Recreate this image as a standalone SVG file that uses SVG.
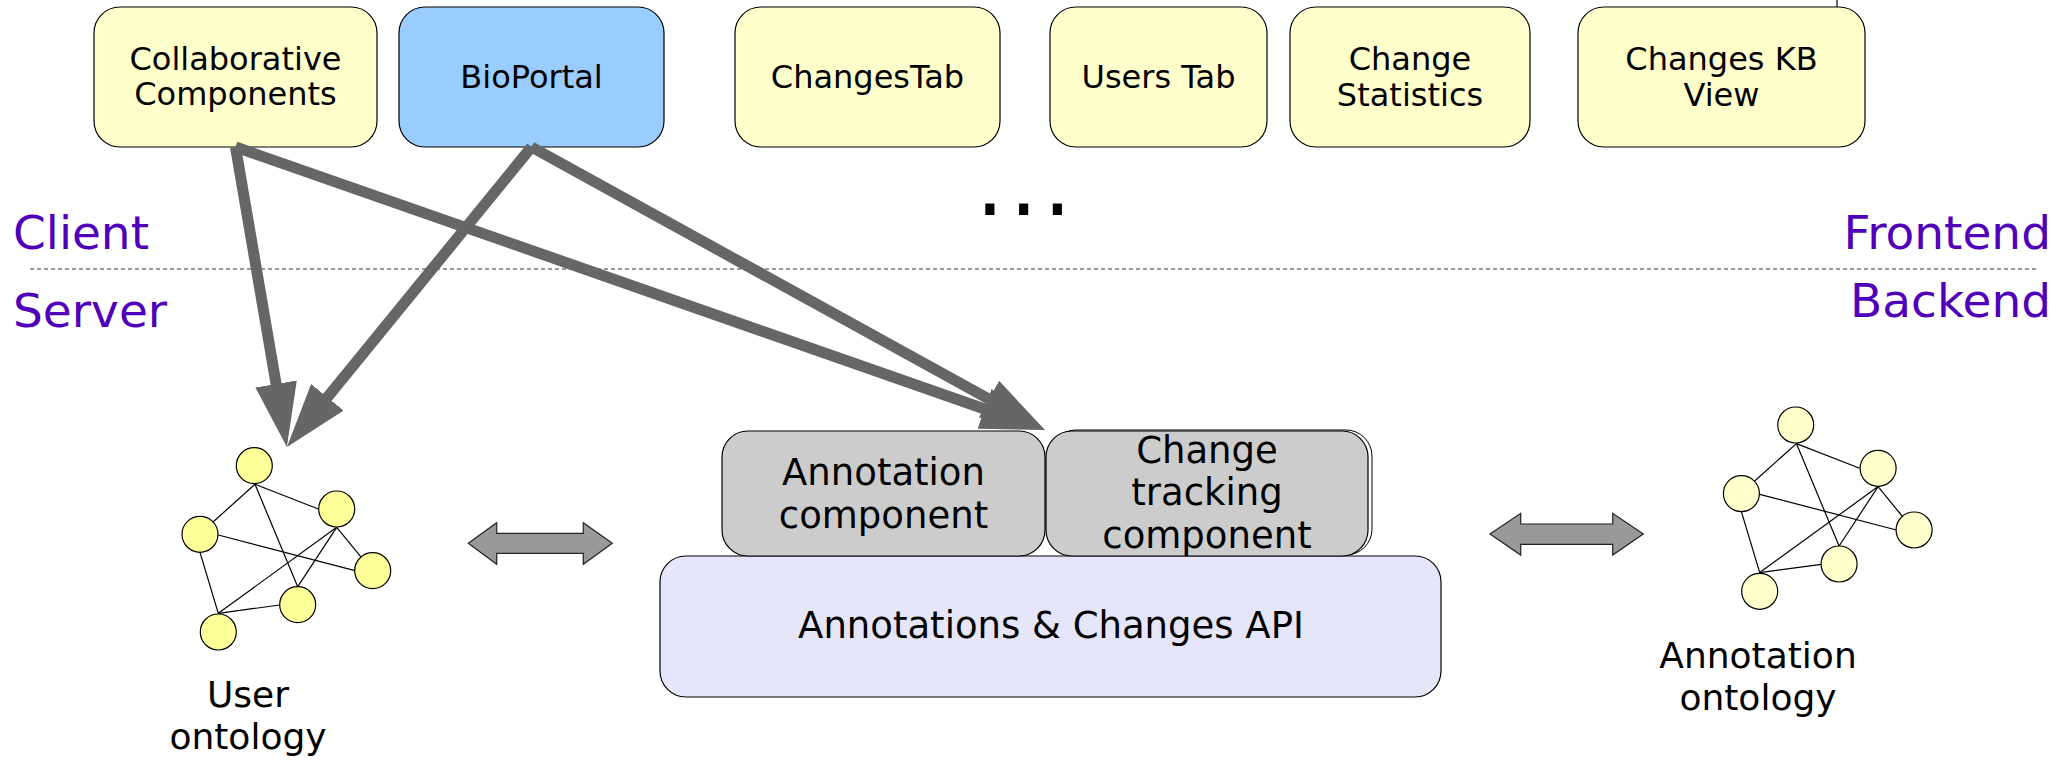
<svg xmlns="http://www.w3.org/2000/svg" width="2067" height="760" viewBox="0 0 2067 760">
<style>
.box{stroke:#000;stroke-width:1.2}
.y{fill:#ffffcc}
.b{fill:#99ccff}
.g{fill:#cccccc}
.api{fill:#e6e6fa}
.t{font-family:"DejaVu Sans","Liberation Sans",sans-serif;font-size:32px;fill:#000;text-anchor:middle}
.t37{font-size:37px}
.t36{font-size:36px}
.lab{font-family:"DejaVu Sans","Liberation Sans",sans-serif;font-size:47px;fill:#5000bb}
.conn{stroke:#666;stroke-width:11;fill:none;marker-end:url(#ah)}
.edge{stroke:#000;stroke-width:1.2}
.c1{fill:#ffff99;stroke:#000;stroke-width:1.2}
.c2{fill:#ffffcc;stroke:#000;stroke-width:1.2}
.dbl{fill:#999;stroke:#222;stroke-width:1.2}
</style>
<defs>
<marker id="ah" markerUnits="userSpaceOnUse" viewBox="0 0 64 42" markerWidth="64" markerHeight="42" refX="19" refY="21" orient="auto">
<path d="M0,0 L64,21 L0,42 z" fill="#666"/>
</marker>
</defs>
<rect width="2067" height="760" fill="#fff"/>
<line x1="1837" y1="0" x2="1837" y2="8" stroke="#000" stroke-width="1.2"/>
<line x1="30" y1="269" x2="2037" y2="269" stroke="#333" stroke-width="1" stroke-dasharray="4,3"/>
<text class="lab" x="13" y="249">Client</text>
<text class="lab" x="13" y="327">Server</text>
<text class="lab" x="2051" y="249" text-anchor="end">Frontend</text>
<text class="lab" x="2051" y="317" text-anchor="end">Backend</text>
<text x="980" y="216" font-family="DejaVu Sans,sans-serif" font-weight="bold" font-size="52" letter-spacing="14" transform="translate(0,-33) scale(1,1.15)">...</text>

<g id="collab"><rect class="box y" x="94" y="7" width="283" height="140" rx="26"/><text class="t" x="235.5" y="70">Collaborative</text><text class="t" x="235.5" y="105">Components</text></g>
<g id="bioportal"><rect class="box b" x="399" y="7" width="265" height="140" rx="26"/><text class="t" x="531.5" y="88">BioPortal</text></g>
<g id="changestab"><rect class="box y" x="735" y="7" width="265" height="140" rx="26"/><text class="t" x="867.5" y="88">ChangesTab</text></g>
<g id="userstab"><rect class="box y" x="1050" y="7" width="217" height="140" rx="26"/><text class="t" x="1158.5" y="88">Users Tab</text></g>
<g id="changestats"><rect class="box y" x="1290" y="7" width="240" height="140" rx="26"/><text class="t" x="1410" y="70">Change</text><text class="t" x="1410" y="106">Statistics</text></g>
<g id="changeskb"><rect class="box y" x="1578" y="7" width="287" height="140" rx="26"/><text class="t" x="1721.5" y="70">Changes KB</text><text class="t" x="1721.5" y="106">View</text></g>

<g id="connectors">
<line class="conn" x1="235.5" y1="147" x2="279.3" y2="402.7"/>
<line class="conn" x1="531.5" y1="147" x2="315.4" y2="412.1"/>
<line class="conn" x1="235.5" y1="147" x2="1002.5" y2="415.2"/>
<line class="conn" x1="531.5" y1="147" x2="1005.6" y2="408.3"/>
</g>

<g id="api"><rect class="box api" x="660" y="556" width="781" height="141" rx="26"/><text class="t t37" x="1051" y="638">Annotations &amp; Changes API</text></g>
<g id="annotcomp"><rect class="box g" x="722" y="431" width="323" height="125" rx="26"/><text class="t t37" x="883.5" y="485">Annotation</text><text class="t t37" x="883.5" y="528">component</text></g>
<g id="changetrack"><rect x="1050" y="430" width="322" height="125" rx="26" fill="none" stroke="#000" stroke-width="1"/><rect class="box g" x="1046" y="431" width="322" height="125" rx="26"/><text class="t t37" x="1207" y="463">Change</text><text class="t t37" x="1207" y="505">tracking</text><text class="t t37" x="1207" y="548">component</text></g>

<g id="dblarrow-left"><path class="dbl" d="M468.3,543.3 L496.7,522.7 L496.7,533.3 L583.3,533.3 L583.3,522.7 L612.3,543.3 L583.3,564.3 L583.3,553.3 L496.7,553.3 L496.7,564.3 Z"/></g>
<g id="dblarrow-right"><path class="dbl" d="M1490,534 L1520.7,513.3 L1520.7,524 L1612.7,524 L1612.7,513.3 L1643.3,534 L1612.7,555 L1612.7,544.3 L1520.7,544.3 L1520.7,555 Z"/></g>

<g id="user-ontology">
<line class="edge" x1="255" y1="484.3" x2="213.3" y2="521.7"/>
<line class="edge" x1="255" y1="484.3" x2="318.3" y2="509"/>
<line class="edge" x1="255" y1="484.3" x2="297.7" y2="586.7"/>
<line class="edge" x1="218.3" y1="535" x2="355" y2="570.7"/>
<line class="edge" x1="200" y1="552.3" x2="218.3" y2="613.3"/>
<line class="edge" x1="336.7" y1="527.3" x2="360.7" y2="556.7"/>
<line class="edge" x1="336.7" y1="527.3" x2="297.7" y2="586.7"/>
<line class="edge" x1="336.7" y1="527.3" x2="218.3" y2="613.3"/>
<line class="edge" x1="218.3" y1="613.3" x2="280" y2="605"/>
<circle class="c1" cx="254.3" cy="465.7" r="18"/>
<circle class="c1" cx="200" cy="534.3" r="18"/>
<circle class="c1" cx="336.7" cy="509" r="18"/>
<circle class="c1" cx="372.7" cy="570.7" r="18"/>
<circle class="c1" cx="297.7" cy="604.7" r="18"/>
<circle class="c1" cx="218.3" cy="632" r="18"/>
<text class="t t36" x="248" y="707">User</text>
<text class="t t36" x="248" y="749">ontology</text>
</g>

<g id="annotation-ontology">
<g transform="translate(1541.4,-40.7)">
<line class="edge" x1="255" y1="484.3" x2="213.3" y2="521.7"/>
<line class="edge" x1="255" y1="484.3" x2="318.3" y2="509"/>
<line class="edge" x1="255" y1="484.3" x2="297.7" y2="586.7"/>
<line class="edge" x1="218.3" y1="535" x2="355" y2="570.7"/>
<line class="edge" x1="200" y1="552.3" x2="218.3" y2="613.3"/>
<line class="edge" x1="336.7" y1="527.3" x2="360.7" y2="556.7"/>
<line class="edge" x1="336.7" y1="527.3" x2="297.7" y2="586.7"/>
<line class="edge" x1="336.7" y1="527.3" x2="218.3" y2="613.3"/>
<line class="edge" x1="218.3" y1="613.3" x2="280" y2="605"/>
<circle class="c2" cx="254.3" cy="465.7" r="18"/>
<circle class="c2" cx="200" cy="534.3" r="18"/>
<circle class="c2" cx="336.7" cy="509" r="18"/>
<circle class="c2" cx="372.7" cy="570.7" r="18"/>
<circle class="c2" cx="297.7" cy="604.7" r="18"/>
<circle class="c2" cx="218.3" cy="632" r="18"/>
</g>
<text class="t t36" x="1758" y="668">Annotation</text>
<text class="t t36" x="1758" y="710">ontology</text>
</g>
</svg>
